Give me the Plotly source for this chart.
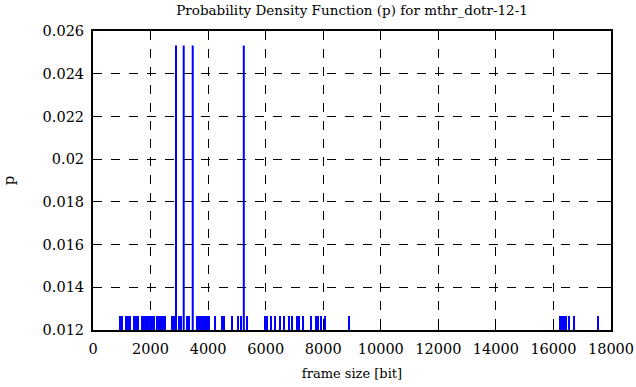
import plotly.graph_objects as go

# frame sizes [bit] and their probabilities
short_sizes = [938, 1008, 1147, 1216, 1286, 1425, 1494, 1564, 1703, 1772, 1842, 1911,
               1981, 2050, 2120, 2224, 2294, 2363, 2432, 2502, 2745, 2815, 2989, 3058,
               3267, 3336, 3614, 3684, 3753, 3823, 3892, 3962, 4031, 4240, 4483, 4552,
               4830, 5039, 5143, 5352, 5977, 6047, 6186, 6325, 6498, 6637, 6811, 6915,
               7089, 7159, 7298, 7576, 7749, 7819, 7923, 8062, 8896, 16228, 16298,
               16367, 16437, 16541, 16715, 17549]
short_p = 0.012658
tall_sizes = [2884, 3152, 3465, 5240]
tall_p = 0.025316

x_ticks = [0, 2000, 4000, 6000, 8000, 10000, 12000, 14000, 16000, 18000]
x_tick_text = ["0", "2000", "4000", "6000", "8000", "10000", "12000", "14000", "16000", "18000"]
y_ticks = [0.012, 0.014, 0.016, 0.018, 0.02, 0.022, 0.024, 0.026]
y_tick_text = ["0.012", "0.014", "0.016", "0.018", "0.02", "0.022", "0.024", "0.026"]

sizes = short_sizes + tall_sizes
probs = [short_p] * len(short_sizes) + [tall_p] * len(tall_sizes)

xs, ys = [], []
for s, p in zip(sizes, probs):
    xs += [s, s, None]
    ys += [0, p, None]

fam = "DejaVu Serif, serif"
tick_font = dict(family=fam, size=14.5, color="black")
label_font = dict(family=fam, size=13, color="black")

fig = go.Figure()
fig.add_trace(go.Scatter(x=xs, y=ys, mode="lines",
                         line=dict(color="#0000ff", width=2), showlegend=False,
                         hoverinfo="skip"))

axis_common = dict(showline=True, linecolor="black", linewidth=2, mirror="allticks",
                   ticks="inside", ticklen=6, tickcolor="black", tickwidth=1,
                   showgrid=True, gridcolor="black", griddash="dash", gridwidth=1,
                   zeroline=False, tickfont=tick_font, automargin=False, layer="below traces")

fig.update_layout(
    width=636, height=387,
    margin=dict(l=93, r=25, t=31, b=57),
    paper_bgcolor="white", plot_bgcolor="white",
    font=tick_font,
    title=dict(text="Probability Density Function (p) for mthr_dotr-12-1",
               x=0.5535, xanchor="center", y=0.974, yanchor="middle", automargin=False,
               font=dict(family=fam, size=13.5, color="black")),
    xaxis=dict(range=[0, 18000], tickvals=x_ticks, ticktext=x_tick_text,
               ticklabelstandoff=5,
               title=dict(text="frame size [bit]", standoff=12, font=label_font),
               **axis_common),
    yaxis=dict(range=[0.012, 0.026], tickvals=y_ticks, ticktext=y_tick_text,
               ticklabelstandoff=4,
               title=dict(text="p", standoff=32, font=dict(family=fam, size=15, color="black")),
               **axis_common),
)

fig.write_html("out.html", config={"displayModeBar": False},
               post_script="document.body.style.margin='0';")
